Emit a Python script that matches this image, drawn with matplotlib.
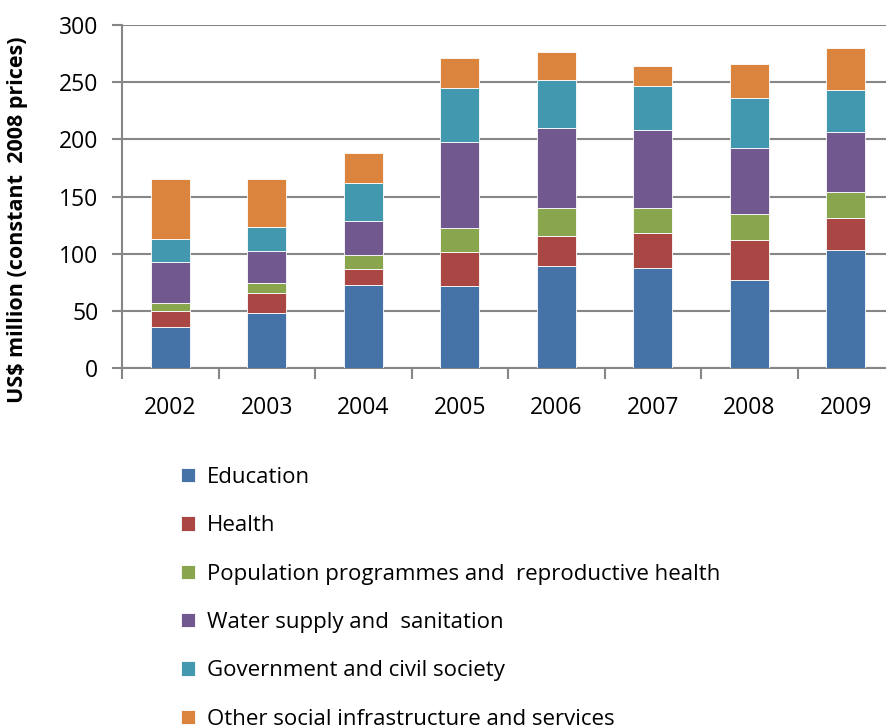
import matplotlib.pyplot as plt
import numpy as np

years = ["2002", "2003", "2004", "2005", "2006", "2007", "2008", "2009"]
education = [35.5, 48.1, 72.2, 71.4, 89.0, 87.2, 77.0, 103.0]
health = [14.4, 17.4, 14.1, 29.9, 26.3, 31.3, 34.8, 28.1]
population = [6.7, 8.8, 12.6, 21.0, 24.6, 21.4, 22.8, 22.5]
water = [36.4, 27.8, 29.7, 75.2, 69.9, 68.2, 57.7, 52.7]
government = [19.7, 21.2, 33.4, 47.5, 41.9, 38.3, 43.6, 36.9]
other = [52.8, 42.2, 26.4, 26.3, 24.9, 17.9, 30.1, 36.9]

series = [education, health, population, water, government, other]
labels = ["Education", "Health", "Population programmes and  reproductive health",
          "Water supply and  sanitation", "Government and civil society",
          "Other social infrastructure and services"]
colors = ["#4572A7", "#AA4643", "#89A54E", "#71588F", "#4198AF", "#DB843D"]

plt.rcParams['font.family'] = ['Open Sans', 'DejaVu Sans']

fig = plt.figure(figsize=(8.86, 7.27), dpi=100)
W, H = 886, 727
# axes: left 122px, right ~894px (cropped), top 25px, bottom 368px
ax = fig.add_axes([122 / W, 1 - 368 / H, (894 - 122) / W, (368 - 25) / H])

x = np.arange(len(years))
bottom = np.zeros(len(years))
handles = []
for vals, lab, col in zip(series, labels, colors):
    b = ax.bar(x, vals, width=0.4, bottom=bottom, color=col, label=lab,
               edgecolor="white", linewidth=0.6, zorder=3)
    handles.append(b)
    bottom += np.array(vals)

ax.set_xlim(-0.5, len(years) - 0.5)
ax.set_ylim(0, 300)
ax.set_yticks(range(0, 301, 50))
ax.yaxis.grid(True, color="#868686", linewidth=1.5, zorder=0)
ax.set_axisbelow(True)

ax.set_xticks(x)
ax.set_xticklabels(years, fontsize=16.5)
ax.set_xticks(np.arange(-0.5, len(years), 1), minor=True)
ax.tick_params(axis="x", which="major", length=0, pad=20)
ax.tick_params(axis="x", which="minor", length=8, width=1.5, color="#868686")
ax.tick_params(axis="y", labelsize=16.5, length=7, width=1.5, color="#868686", pad=10)

for s in ["top", "right"]:
    ax.spines[s].set_visible(False)
for s in ["left", "bottom"]:
    ax.spines[s].set_color("#868686")
    ax.spines[s].set_linewidth(1.5)

fig.text(18 / W, 1 - 220 / H, "US$ million (constant  2008 prices)", rotation=90,
         fontsize=15.5, fontweight="bold", ha="center", va="center")

fig.legend(handles=handles, labels=labels, loc="upper left",
           bbox_to_anchor=(172 / W, 1 - 458 / H), frameon=False, fontsize=16,
           handlelength=0.62, handleheight=0.62, handletextpad=0.55,
           labelspacing=1.23, borderaxespad=0)

fig.savefig("out.png", dpi=100)
